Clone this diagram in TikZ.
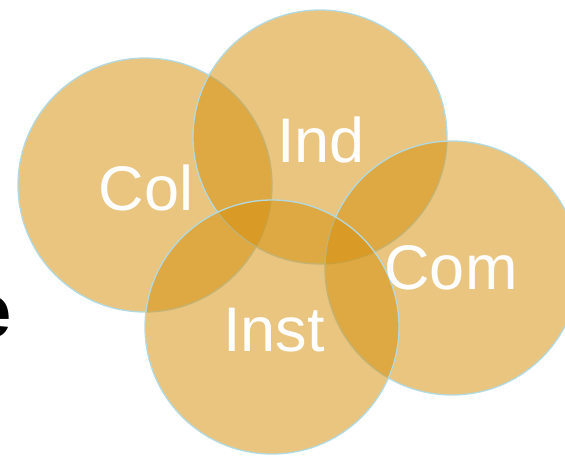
\documentclass[tikz,border=0pt]{standalone}
\usepackage{fontspec}
\setmainfont{Liberation Sans}
\usetikzlibrary{positioning}
\definecolor{ochre}{RGB}{212,143,10}
\definecolor{rim}{RGB}{178,218,226}

\begin{document}
\begin{tikzpicture}[x=1pt,y=-1pt,semithick]
		  \tikzstyle{blob}=[circle,minimum size=254pt,inner sep=0pt,fill=ochre,fill opacity=0.52,draw=rim,line width=1.3pt]
		  \tikzstyle{tag}=[text=white,font=\fontsize{63}{63}\selectfont,inner sep=0pt]

		  \useasboundingbox (0,0) rectangle (565,459);
		  \clip (0,0) rectangle (565,459);

		  % cut-off letter at the left border
		  \node[anchor=base east,inner sep=0pt,font=\fontsize{76}{76}\selectfont\bfseries] (word) at (12,337) {e};

		  \node[blob] (col) at (145,185) {};
		  \node[blob] (ind) at (320,137) {};
		  \node[blob] (com) at (452,268) {};
		  \node[blob] (inst) at (272,327) {};

		  \node[tag] (colt) at (146,188) {Col};
		  \node[tag] (indt) at (321,140) {Ind};
		  \node[tag] (comt) at (451,268) {Com};
		  \node[tag] (instt) at (274,330) {Inst};
		\end{tikzpicture}
\end{document}
